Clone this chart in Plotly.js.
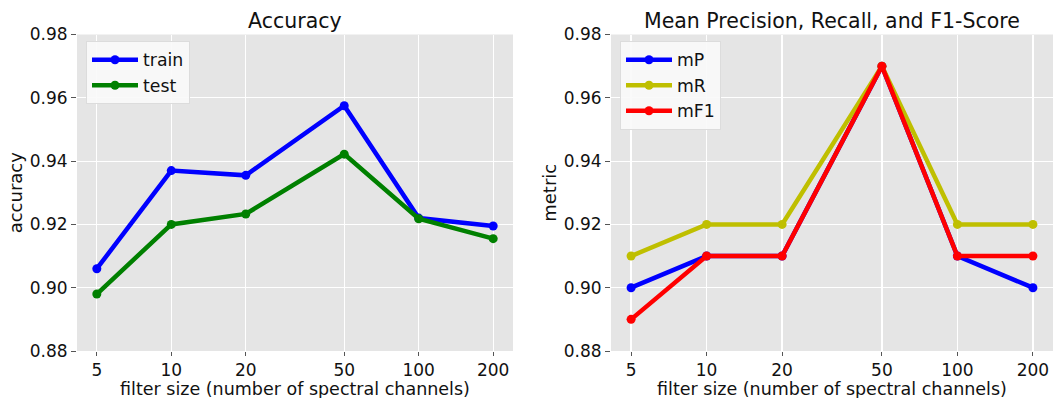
<!DOCTYPE html>
<html>
<head>
<meta charset="utf-8">
<script src="https://cdn.plot.ly/plotly-3.0.1.min.js"></script>
<style>
  html, body { margin: 0; padding: 0; background: #fff; }
  #chart { width: 1053px; height: 398px; }
</style>
</head>
<body>
<div id="chart"></div>
<script>
// Filter sizes (number of spectral channels)
const filterSizes = [5, 10, 20, 50, 100, 200];
const tickLabels = ['5', '10', '20', '50', '100', '200'];

// Accuracy
const trainAcc = [0.906, 0.937, 0.9355, 0.9575, 0.922, 0.9195];
const testAcc  = [0.898, 0.920, 0.9233, 0.9422, 0.9218, 0.9155];

// Mean precision / recall / F1
const meanP  = [0.90, 0.91, 0.91, 0.97, 0.91, 0.90];
const meanR  = [0.91, 0.92, 0.92, 0.97, 0.92, 0.92];
const meanF1 = [0.89, 0.91, 0.91, 0.97, 0.91, 0.91];

const xLabel = 'filter size (number of spectral channels)';

const FONT = 'DejaVu Sans, sans-serif';
const TEXT = '#111111';

function series(name, y, color, xa, ya, legend) {
  return {
    x: filterSizes, y: y, name: name, type: 'scatter', mode: 'lines+markers',
    line: { color: color, width: 4.5 },
    marker: { color: color, size: 9 },
    xaxis: xa, yaxis: ya, legend: legend
  };
}

const traces = [
  series('train', trainAcc, '#0000ff', 'x', 'y', 'legend'),
  series('test', testAcc, '#008000', 'x', 'y', 'legend'),
  series('mP', meanP, '#0000ff', 'x2', 'y2', 'legend2'),
  series('mR', meanR, '#bfbf00', 'x2', 'y2', 'legend2'),
  series('mF1', meanF1, '#ff0000', 'x2', 'y2', 'legend2')
];

function xAxis(domain, anchor) {
  return {
    type: 'log', domain: domain, anchor: anchor,
    range: [Math.log10(5) - 0.0801, Math.log10(200) + 0.0801],
    tickmode: 'array', tickvals: filterSizes, ticktext: tickLabels,
    showgrid: true, gridcolor: '#ffffff', gridwidth: 1.2,
    zeroline: false, showline: false,
    ticks: 'outside', ticklen: 4, tickwidth: 1, tickcolor: '#555555',
    tickfont: { family: FONT, size: 17, color: TEXT }
  };
}

function yAxis(domain, anchor, label) {
  return {
    domain: domain, anchor: anchor, range: [0.88, 0.98],
    tickmode: 'array', tickvals: [0.88, 0.90, 0.92, 0.94, 0.96, 0.98],
    tickformat: '.2f',
    showgrid: true, gridcolor: '#ffffff', gridwidth: 1.2,
    zeroline: false, showline: false,
    ticks: 'outside', ticklen: 5, tickwidth: 1, tickcolor: '#555555',
    tickfont: { family: FONT, size: 17, color: TEXT },
    title: { text: label, standoff: 2,
             font: { family: FONT, size: 18, color: TEXT } }
  };
}

// Panel titles and x-axis labels placed as annotations under/over each panel
function panelText(text, xref, yPx, size) {
  return {
    text: text, xref: xref, yref: 'paper', x: 0.5, y: 1 - yPx / 398,
    xanchor: 'center', yanchor: 'middle', showarrow: false,
    font: { family: FONT, size: size, color: TEXT }
  };
}

const yDom = [1 - 351 / 398, 1 - 34.5 / 398];
const legendStyle = {
  bgcolor: 'rgba(250,250,250,0.9)', bordercolor: '#dcdcdc', borderwidth: 1,
  font: { family: FONT, size: 17.3, color: TEXT },
  xanchor: 'left', yanchor: 'top', itemwidth: 46, tracegroupgap: 0
};

const layout = {
  width: 1053, height: 398,
  margin: { l: 0, r: 0, t: 0, b: 0 },
  paper_bgcolor: '#ffffff', plot_bgcolor: '#e5e5e5',
  font: { family: FONT, color: TEXT },
  xaxis: xAxis([77 / 1053, 513 / 1053], 'y'),
  yaxis: yAxis(yDom, 'x', 'accuracy'),
  xaxis2: xAxis([611 / 1053, 1], 'y2'),
  yaxis2: yAxis(yDom, 'x2', 'metric'),
  legend: Object.assign({ x: 86 / 1053, y: 1 - 41 / 398 }, legendStyle),
  legend2: Object.assign({ x: 620 / 1053, y: 1 - 41 / 398 }, legendStyle),
  annotations: [
    panelText('Accuracy', 'x domain', 21, 20.5),
    panelText('Mean Precision, Recall, and F1-Score', 'x2 domain', 21, 20.5),
    panelText(xLabel, 'x domain', 389, 17.5),
    panelText(xLabel, 'x2 domain', 389, 17.5)
  ],
  showlegend: true
};

Plotly.newPlot('chart', traces, layout, { displayModeBar: false, staticPlot: true });
</script>
</body>
</html>
